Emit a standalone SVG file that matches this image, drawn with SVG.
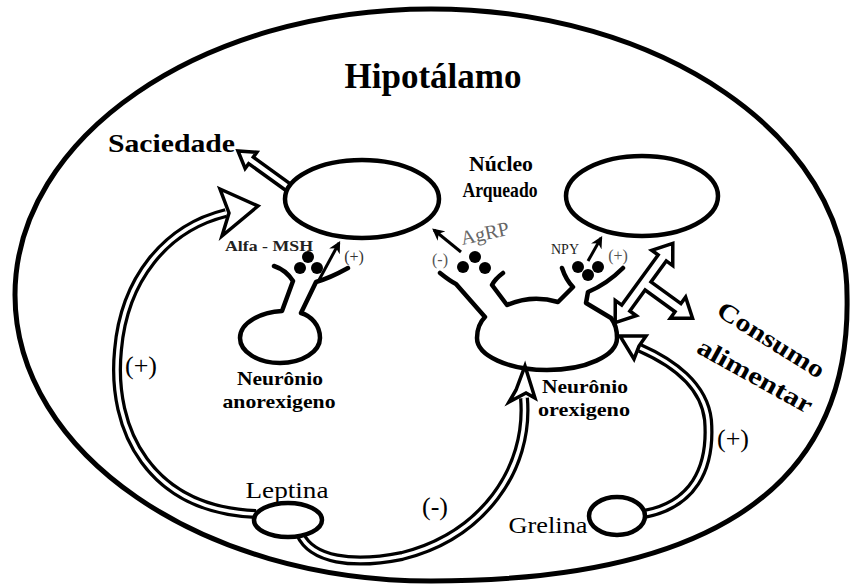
<svg xmlns="http://www.w3.org/2000/svg" width="850" height="586" viewBox="0 0 850 586">
<style>
.s{font-family:"Liberation Serif","Times New Roman",serif}
.b{font-weight:bold}
.ln{fill:none;stroke:#000;stroke-width:4.5;stroke-linecap:round;stroke-linejoin:round}
.ell{fill:#fff;stroke:#000;stroke-width:4.5}
.dbl{fill:none;stroke:#000;stroke-width:10}
.gap{fill:none;stroke:#fff;stroke-width:3.5}
.hol{fill:#fff;stroke:#000;stroke-width:3.5;stroke-linejoin:miter}
.dot{fill:#000}
.thin{fill:none;stroke:#000;stroke-width:3}
</style>
<defs>
<marker id="ah" viewBox="0 0 10 10" refX="8" refY="5" markerWidth="4" markerHeight="4" orient="auto" markerUnits="strokeWidth">
<path d="M0,0 L10,5 L0,10 L3,5 Z" fill="#000"/>
</marker>
</defs>
<rect width="850" height="586" fill="#fff"/>
<path id="hipotalamo" d="M431,9 C661,9 847,137 847,295 C852,500 690,581 431,581 C201,581 15,453 15,295 C15,137 201,9 431,9 Z" fill="none" stroke="#000" stroke-width="5"/>
<text class="s b" x="433" y="88" font-size="36" text-anchor="middle" textLength="177" lengthAdjust="spacingAndGlyphs">Hipotálamo</text>

<g id="connectors">
  <path class="dbl" d="M256,514 C150,510 110,430 118,350 C124,280 165,228 226,213"/>
  <path class="gap" d="M256,514 C150,510 110,430 118,350 C124,280 165,228 226,213"/>
  <polygon class="hol" points="220,189 258,206 222,236 229,213"/>
  <path class="dbl" d="M300,534 C312,560 352,566 402,556 C482,536 530,470 524,398"/>
  <path class="gap" d="M300,534 C312,560 352,566 402,556 C482,536 530,470 524,398"/>
  <polygon class="hol" points="525,366 535,398 526,393 509,402 516,390"/>
  <path class="dbl" d="M644,514 C692,505 712,470 708,420 C704,385 672,362 640,348"/>
  <path class="gap" d="M644,514 C692,505 712,470 708,420 C704,385 672,362 640,348"/>
  <polygon class="hol" points="620,336 646,336 639,346 634,359"/>
  <polygon class="hol" transform="translate(238,151) rotate(215.8)" points="0,0 -16,-10 -16,-4 -62,-4 -62,4 -16,4 -16,10"/>
  <polygon class="hol" transform="translate(644,283) rotate(-54)" points="49,0 31,13 31,5 5,5 5,42 13,42 0,60 -13,42 -5,42 -5,5 -31,5 -31,13 -49,0 -31,-13 -31,-5 31,-5 31,-13"/>
  <line class="thin" x1="319" y1="280" x2="339" y2="243" marker-end="url(#ah)"/>
  <line class="thin" x1="461" y1="252" x2="434" y2="230" marker-end="url(#ah)"/>
  <line class="thin" x1="588" y1="261" x2="601" y2="238" marker-end="url(#ah)"/>
</g>

<g id="nucleo-left">
  <ellipse class="ell" cx="362" cy="199" rx="77" ry="39"/>
</g>
<g id="nucleo-right">
  <ellipse class="ell" cx="642" cy="196" rx="76" ry="40"/>
</g>
<g id="nucleo-label">
  <text class="s b" x="501" y="171" font-size="21" text-anchor="middle" textLength="64" lengthAdjust="spacingAndGlyphs">Núcleo</text>
  <text class="s b" x="500" y="197" font-size="21" text-anchor="middle" textLength="75" lengthAdjust="spacingAndGlyphs">Arqueado</text>
</g>
<g id="saciedade">
  <text class="s b" x="108" y="152" font-size="26" textLength="127" lengthAdjust="spacingAndGlyphs">Saciedade</text>
</g>

<g id="neuronio-anorexigeno">
  <path class="ln" fill="#fff" d="M274,266 Q286,270 293,281 L282,311 C262,312 240,322 240,338 A40,25 0 0 0 320,338 C320,325 311,316 301,313 L316,282 Q330,278 348,268"/>
  <circle class="dot" cx="308" cy="257" r="6"/>
  <circle class="dot" cx="300" cy="268" r="6"/>
  <circle class="dot" cx="317" cy="268" r="6"/>
  <text class="s b" x="225" y="251" font-size="15" fill="#222" textLength="88" lengthAdjust="spacingAndGlyphs">Alfa - MSH</text>
  <text class="s" x="354" y="262" font-size="16" fill="#333" text-anchor="middle">(+)</text>
  <text class="s b" x="280" y="385" font-size="19" text-anchor="middle" textLength="86" lengthAdjust="spacingAndGlyphs">Neurônio</text>
  <text class="s b" x="279" y="408" font-size="19" text-anchor="middle" textLength="113" lengthAdjust="spacingAndGlyphs">anorexigeno</text>
</g>

<g id="neuronio-orexigeno">
  <path class="ln" d="M440,273 Q450,281 456,284 L485,317 C478,324 477,331 477,338 A70,32 0 0 0 617,338 C617,330 615,323 611,318 L586,303 L588,292 Q607,284 623,268"/>
  <path class="ln" d="M562,268 Q566,280 573,287 L558,302 Q532,294 507,305 L492,285 Q495,279 503,273"/>
  <circle class="dot" cx="463" cy="267" r="6"/>
  <circle class="dot" cx="475" cy="257" r="6"/>
  <circle class="dot" cx="485" cy="268" r="6"/>
  <circle class="dot" cx="578" cy="267" r="6"/>
  <circle class="dot" cx="588" cy="275" r="6"/>
  <circle class="dot" cx="598" cy="267" r="6"/>
  <text class="s" x="440" y="265" font-size="16" fill="#555" text-anchor="middle">(-)</text>
  <text class="s" x="485" y="240" font-size="20" fill="#666" text-anchor="middle" transform="rotate(-12 485 234)">AgRP</text>
  <text class="s" x="565" y="254" font-size="14" fill="#222" text-anchor="middle">NPY</text>
  <text class="s" x="618" y="261" font-size="16" fill="#555" text-anchor="middle">(+)</text>
  <text class="s b" x="585" y="393" font-size="19" text-anchor="middle" textLength="86" lengthAdjust="spacingAndGlyphs">Neurônio</text>
  <text class="s b" x="584" y="416" font-size="19" text-anchor="middle" textLength="92" lengthAdjust="spacingAndGlyphs">orexigeno</text>
</g>

<g id="leptina">
  <ellipse class="ell" cx="288" cy="520" rx="34" ry="17"/>
  <text class="s" x="287" y="498" font-size="23" text-anchor="middle" textLength="83" lengthAdjust="spacingAndGlyphs">Leptina</text>
</g>
<g id="grelina">
  <ellipse class="ell" cx="617" cy="516" rx="28" ry="19"/>
  <text class="s" x="548" y="533" font-size="23" text-anchor="middle" textLength="79" lengthAdjust="spacingAndGlyphs">Grelina</text>
</g>

<g id="consumo">
  <text class="s b" font-size="25" text-anchor="middle" transform="translate(771,340) rotate(32)" y="8" textLength="122" lengthAdjust="spacingAndGlyphs">Consumo</text>
  <text class="s b" font-size="25" text-anchor="middle" transform="translate(755,376) rotate(29)" y="8" textLength="128" lengthAdjust="spacingAndGlyphs">alimentar</text>
</g>

<g id="signs">
  <text class="s" x="141" y="374" font-size="26" text-anchor="middle">(+)</text>
  <text class="s" x="733" y="447" font-size="26" text-anchor="middle">(+)</text>
  <text class="s" x="435" y="515" font-size="26" text-anchor="middle">(-)</text>
</g>
</svg>
